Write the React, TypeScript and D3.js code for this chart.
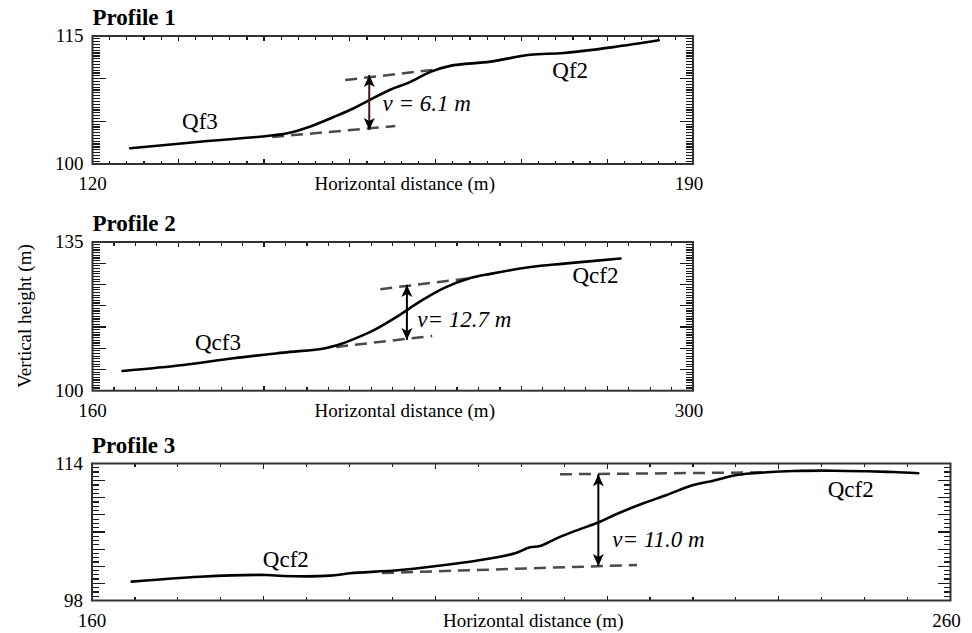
import React from "react";
import * as d3 from "d3";

// profile 1
const p1Dist = [124.4, 132.5, 139.5, 142.7, 145.4, 148.1, 150.4, 152.1, 154.7, 156.8, 159.4, 161.7, 166.4, 171.0, 174.9, 180.7, 186.0];
const p1Height = [101.84, 102.61, 103.2, 103.6, 104.4, 105.5, 106.5, 107.4, 108.7, 109.5, 110.8, 111.5, 112.0, 112.8, 113.0, 113.7, 114.5];

// profile 2
const p2Dist = [167.0, 181.2, 192.9, 204.5, 214.25, 218.5, 222.0, 225.5, 231.0, 236.4, 241.9, 248.1, 252.75, 262.1, 269.9, 283.1];
const p2Height = [104.65, 106.06, 107.64, 108.96, 110.0, 111.2, 112.6, 114.2, 117.45, 121.0, 124.15, 126.5, 127.5, 129.1, 129.9, 131.1];

// profile 3
const p3Dist = [164.62, 172.58, 180.35, 182.28, 187.72, 190.05, 195.88, 202.87, 207.52, 209.27, 211.02, 212.18, 214.13, 216.06, 219.17, 221.12, 224.22, 226.94, 230.04, 232.37, 235.1, 238.59, 241.69, 246.35, 250.24, 253.34, 256.25];
const p3Height = [100.2, 100.78, 100.98, 100.86, 100.9, 101.18, 101.56, 102.38, 103.12, 103.51, 104.21, 104.36, 105.26, 106.04, 107.2, 108.1, 109.35, 110.32, 111.49, 111.99, 112.66, 112.97, 113.12, 113.16, 113.09, 113.0, 112.86];

// fitted surface lines [x0, y0, x1, y1]
const p1Upper = [149.46, 109.84, 160.54, 111.13];
const p1Lower = [140.94, 103.16, 155.29, 104.45];
const p2Upper = [227.1, 123.9, 248.1, 126.5];
const p2Lower = [216.8, 110.3, 239.2, 112.9];
const p3Upper = [214.51, 112.74, 238.39, 112.97];
const p3Lower = [193.78, 101.21, 223.48, 102.15];

// offset arrows [x, top, bottom]
const p1Arrow = [152.26, 110.43, 103.98];
const p2Arrow = [233.3, 124.9, 111.96];
const p3Arrow = [218.98, 112.74, 102.03];

const p1Labels = [
  { text: "Qf3", x: 130.44, y: 104.1, italic: false },
  { text: "Qf2", x: 173.6, y: 110.08, italic: false },
  { text: "v = 6.1 m", x: 153.8, y: 106.2, italic: true },
];
const p2Labels = [
  { text: "Qcf3", x: 183.9, y: 109.6, italic: false },
  { text: "Qcf2", x: 271.9, y: 125.4, italic: false },
  { text: "v= 12.7 m", x: 235.7, y: 115.0, italic: true },
];
const p3Labels = [
  { text: "Qcf2", x: 179.9, y: 101.9, italic: false },
  { text: "Qcf2", x: 245.7, y: 110.1, italic: false },
  { text: "v= 11.0 m", x: 220.6, y: 104.25, italic: true },
];

const FONT = "Liberation Serif, Times New Roman, serif";

const Profile = (props: any) => {
  const { id, title, xDomain, yDomain, box, dist, height, upper, lower, arrow, labels, xStep, xMajor, yStep, yMajor, shaft } = props;
  const x = d3.scaleLinear().domain(xDomain).range([box.left, box.right]);
  const y = d3.scaleLinear().domain(yDomain).range([box.bottom, box.top]);

  const pts = dist.map((d: number, i: number) => [d, height[i]]);
  const line = d3.line<number[]>().x(d => x(d[0])).y(d => y(d[1])).curve(d3.curveCatmullRom.alpha(0.5));

  const isMajor = (v: number, start: number, major: number) =>
    Math.abs((v - start) / major - Math.round((v - start) / major)) < 1e-6;

  const yTicks = d3.range(yDomain[0], yDomain[1] + 1e-6, yStep).filter((v: number) => v > yDomain[0] + 1e-6 && v < yDomain[1] - 1e-6);
  const xTicks = d3.range(xDomain[0], xDomain[1] + 1e-6, xStep).filter((v: number) => v > xDomain[0] + 1e-6 && v < xDomain[1] - 1e-6);

  const mid = (box.left + box.right) / 2 + 12;

  return (
    <g>
      <defs>
        <marker id={`arr-${id}`} viewBox="0 0 12 12" refX="12" refY="6" markerWidth="12" markerHeight="12" markerUnits="userSpaceOnUse" orient="auto-start-reverse">
          <path d="M0,0.5 L12,6 L0,11.5 L3,6 z" fill="#000" />
        </marker>
      </defs>
      <text x={box.left} y={box.top - 11} fontFamily={FONT} fontWeight="bold" fontSize={23}>{title}</text>

      <g stroke="#1a1a1a" strokeWidth={1.2} shapeRendering="crispEdges">
        {yTicks.map((v: number, i: number) => {
          const len = isMajor(v, yDomain[0], yMajor) ? 13 : 7;
          return (
            <g key={`y${i}`}>
              <line x1={box.left} x2={box.left + len} y1={y(v)} y2={y(v)} />
              <line x1={box.right} x2={box.right - len} y1={y(v)} y2={y(v)} />
            </g>
          );
        })}
        {xTicks.map((v: number, i: number) => {
          const len = isMajor(v, xDomain[0], xMajor) ? 5 : 3.5;
          return (
            <g key={`x${i}`}>
              <line x1={x(v)} x2={x(v)} y1={box.bottom} y2={box.bottom - len} />
              <line x1={x(v)} x2={x(v)} y1={box.top} y2={box.top + len} />
            </g>
          );
        })}
      </g>
      <rect x={box.left} y={box.top} width={box.right - box.left} height={box.bottom - box.top} fill="none" stroke="#333" strokeWidth={2} />

      <g fontFamily={FONT} fontSize={19}>
        <text x={box.left - 9} y={box.top + 6} textAnchor="end">{yDomain[1]}</text>
        <text x={box.left - 9} y={box.bottom + 6} textAnchor="end">{yDomain[0]}</text>
        <text x={box.left} y={box.bottom + 26} textAnchor="middle">{xDomain[0]}</text>
        <text x={box.right - 4} y={box.bottom + 26} textAnchor="middle">{xDomain[1]}</text>
        <text x={mid} y={box.bottom + 26} textAnchor="middle">Horizontal distance (m)</text>
      </g>

      <g stroke="#4a4a4a" strokeWidth={2.5} strokeDasharray="12 7" fill="none">
        <line x1={x(upper[0])} y1={y(upper[1])} x2={x(upper[2])} y2={y(upper[3])} />
        <line x1={x(lower[0])} y1={y(lower[1])} x2={x(lower[2])} y2={y(lower[3])} />
      </g>

      <path d={line(pts) || ""} fill="none" stroke="#000" strokeWidth={2.6} strokeLinejoin="round" strokeLinecap="round" />

      <line x1={x(arrow[0])} x2={x(arrow[0])} y1={y(arrow[1])} y2={y(arrow[2])} stroke={shaft} strokeWidth={2}
        markerStart={`url(#arr-${id})`} markerEnd={`url(#arr-${id})`} />

      <g fontFamily={FONT} fontSize={23}>
        {labels.map((l: any, i: number) => (
          <text key={i} x={x(l.x)} y={y(l.y)} fontStyle={l.italic ? "italic" : "normal"}>{l.text}</text>
        ))}
      </g>
    </g>
  );
};

export default function App() {
  return (
    <svg width={972} height={633} style={{ position: "absolute", left: 0, top: 0, background: "#fff" }}>
      <Profile id="p1" title="Profile 1" xDomain={[120, 190]} yDomain={[100, 115]}
        box={{ left: 92.5, top: 36, right: 693, bottom: 164 }}
        dist={p1Dist} height={p1Height} upper={p1Upper} lower={p1Lower} arrow={p1Arrow} labels={p1Labels}
        xStep={2} xMajor={10} yStep={1 / 3} yMajor={5} shaft="#4a1414" />
      <Profile id="p2" title="Profile 2" xDomain={[160, 300]} yDomain={[100, 135]}
        box={{ left: 92.5, top: 242, right: 693, bottom: 390.7 }}
        dist={p2Dist} height={p2Height} upper={p2Upper} lower={p2Lower} arrow={p2Arrow} labels={p2Labels}
        xStep={5} xMajor={20} yStep={0.625} yMajor={5} shaft="#000" />
      <Profile id="p3" title="Profile 3" xDomain={[160, 260]} yDomain={[98, 114]}
        box={{ left: 92, top: 463.5, right: 950.5, bottom: 600.5 }}
        dist={p3Dist} height={p3Height} upper={p3Upper} lower={p3Lower} arrow={p3Arrow} labels={p3Labels}
        xStep={5} xMajor={20} yStep={0.5} yMajor={2} shaft="#000" />
      <text transform="translate(31,316) rotate(-90)" textAnchor="middle" fontFamily={FONT} fontSize={19}>Vertical height (m)</text>
    </svg>
  );
}
